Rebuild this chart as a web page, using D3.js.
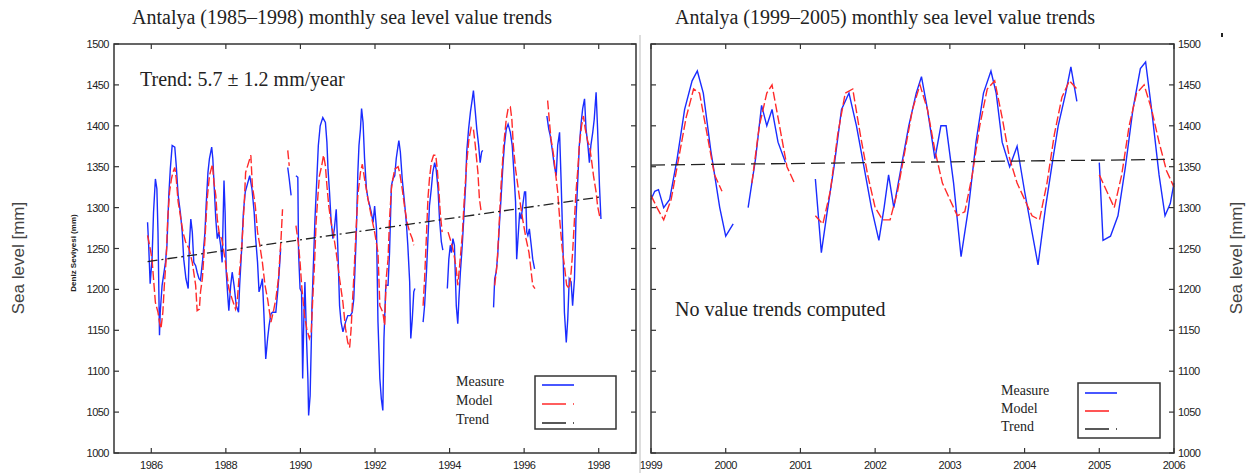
<!DOCTYPE html>
<html>
<head>
<meta charset="utf-8">
<script src="https://cdn.jsdelivr.net/npm/d3@7"></script>
<style>
  body { margin: 0; background: #fff; }
  svg text { fill: #222; }
  .tick-lbl { font-family: "Liberation Sans", Arial, sans-serif; font-size: 11px; letter-spacing: -0.5px; }
  .serif { font-family: "Liberation Serif", "Times New Roman", serif; }
</style>
</head>
<body>
<div id="chart"></div>
<script>
// ---- data (decimal year, mm); null = gap in the record ----
var measureLeft = [
[1985.90,1282],[1985.93,1254],[1985.97,1207],[1986.02,1237],[1986.06,1294],[1986.11,1335],[1986.15,1323],[1986.18,1270],[1986.22,1144],[1986.24,1172],[1986.29,1205],[1986.38,1233],[1986.42,1254],[1986.47,1315],[1986.51,1347],[1986.56,1376],[1986.63,1374],[1986.67,1351],[1986.72,1315],[1986.78,1294],[1986.83,1270],[1986.87,1237],[1986.93,1213],[1986.99,1201],[1987.02,1254],[1987.06,1286],[1987.10,1270],[1987.14,1233],[1987.19,1229],[1987.23,1221],[1987.28,1213],[1987.32,1211],[1987.38,1237],[1987.44,1270],[1987.47,1302],[1987.52,1343],[1987.56,1360],[1987.62,1374],[1987.65,1360],[1987.69,1323],[1987.73,1286],[1987.77,1262],[1987.81,1270],[1987.86,1254],[1987.90,1233],[1987.95,1333],[1987.98,1294],[1988.01,1221],[1988.05,1193],[1988.08,1174],[1988.13,1205],[1988.17,1221],[1988.22,1205],[1988.28,1180],[1988.34,1172],[1988.37,1205],[1988.43,1254],[1988.47,1294],[1988.52,1319],[1988.58,1329],[1988.64,1339],[1988.70,1323],[1988.76,1294],[1988.80,1262],[1988.85,1233],[1988.89,1197],[1988.94,1205],[1988.98,1213],[1989.03,1160],[1989.07,1115],[1989.12,1140],[1989.16,1156],[1989.21,1170],[1989.25,1172],[1989.34,1172],[1989.39,1197],[1989.43,1221],[1989.47,1250],
null,
[1989.66,1349],[1989.70,1335],[1989.75,1315],
null,
[1989.88,1339],[1989.93,1337],[1989.95,1245],[1989.99,1201],[1990.03,1197],[1990.06,1091],[1990.09,1160],[1990.12,1209],[1990.17,1131],[1990.20,1091],[1990.22,1046],[1990.26,1070],[1990.29,1131],[1990.31,1180],[1990.35,1233],[1990.39,1286],[1990.44,1335],[1990.48,1376],[1990.53,1400],[1990.60,1410],[1990.67,1404],[1990.71,1380],[1990.74,1347],[1990.78,1319],[1990.82,1286],[1990.87,1262],[1990.91,1274],[1990.96,1298],[1991.00,1254],[1991.05,1180],[1991.09,1160],[1991.14,1148],[1991.21,1160],[1991.27,1168],[1991.34,1168],[1991.39,1172],[1991.43,1188],[1991.46,1221],[1991.50,1270],[1991.54,1343],[1991.57,1376],[1991.61,1396],[1991.64,1421],[1991.68,1404],[1991.72,1360],[1991.77,1323],[1991.81,1311],[1991.86,1302],[1991.90,1294],[1991.95,1282],[1991.99,1302],[1992.04,1274],[1992.08,1160],[1992.13,1091],[1992.17,1066],[1992.21,1052],[1992.24,1140],[1992.29,1205],[1992.35,1205],[1992.39,1245],[1992.44,1327],[1992.48,1335],[1992.53,1339],[1992.57,1360],[1992.62,1376],[1992.64,1382],[1992.68,1368],[1992.73,1335],[1992.79,1307],[1992.84,1282],[1992.88,1254],[1992.93,1209],[1992.96,1140],[1993.00,1164],[1993.04,1197],[1993.07,1201],
null,
[1993.29,1160],[1993.33,1180],[1993.38,1221],[1993.42,1262],[1993.46,1302],[1993.51,1323],[1993.55,1343],[1993.60,1355],[1993.64,1347],[1993.69,1323],[1993.73,1286],[1993.78,1258],[1993.82,1248],
null,
[1993.94,1201],[1993.98,1237],[1994.02,1254],[1994.05,1245],[1994.09,1262],[1994.13,1254],[1994.18,1180],[1994.22,1158],[1994.25,1188],[1994.29,1221],[1994.34,1254],[1994.38,1286],[1994.43,1327],[1994.46,1368],[1994.51,1396],[1994.56,1417],[1994.61,1433],[1994.64,1443],[1994.69,1417],[1994.73,1396],[1994.78,1376],[1994.82,1355],[1994.86,1368],[1994.89,1370],
null,
[1995.18,1178],[1995.21,1213],[1995.25,1221],[1995.29,1241],[1995.34,1282],[1995.38,1311],[1995.43,1351],[1995.47,1376],[1995.52,1396],[1995.57,1402],[1995.63,1392],[1995.68,1376],[1995.72,1347],[1995.77,1307],[1995.80,1237],[1995.84,1266],[1995.88,1294],[1995.92,1286],[1995.96,1302],[1996.01,1319],[1996.04,1319],[1996.07,1270],[1996.10,1266],[1996.14,1274],[1996.19,1254],[1996.23,1237],[1996.28,1225],
null,
[1996.61,1412],[1996.66,1396],[1996.70,1388],[1996.75,1372],[1996.81,1351],[1996.86,1339],[1996.90,1376],[1996.95,1392],[1996.99,1335],[1997.04,1254],[1997.08,1172],[1997.13,1135],[1997.17,1164],[1997.21,1213],[1997.26,1209],[1997.30,1180],[1997.35,1213],[1997.39,1286],[1997.44,1335],[1997.48,1376],[1997.53,1404],[1997.57,1421],[1997.62,1433],[1997.66,1396],[1997.71,1376],[1997.75,1355],[1997.79,1376],[1997.84,1392],[1997.88,1408],[1997.93,1441],[1997.97,1396],[1998.02,1327],[1998.06,1286]
];

var modelLeft = [
[1985.90,1266],[1985.97,1250],[1986.02,1237],[1986.06,1213],[1986.11,1184],[1986.18,1172],[1986.22,1160],[1986.26,1152],[1986.31,1172],[1986.35,1205],[1986.40,1237],[1986.44,1286],[1986.49,1319],[1986.54,1335],[1986.58,1343],[1986.63,1349],[1986.67,1335],[1986.72,1307],[1986.78,1290],[1986.85,1270],[1986.92,1258],[1987.01,1250],[1987.10,1233],[1987.19,1205],[1987.23,1174],[1987.29,1176],[1987.32,1197],[1987.37,1213],[1987.44,1262],[1987.50,1311],[1987.56,1339],[1987.64,1353],[1987.68,1331],[1987.73,1315],[1987.77,1286],[1987.83,1266],[1987.89,1262],[1987.92,1254],[1987.99,1233],[1988.08,1201],[1988.17,1188],[1988.26,1176],[1988.31,1188],[1988.35,1213],[1988.43,1254],[1988.49,1302],[1988.53,1343],[1988.61,1355],[1988.67,1364],[1988.71,1327],[1988.79,1302],[1988.85,1270],[1988.91,1254],[1988.98,1233],[1989.05,1205],[1989.12,1188],[1989.21,1160],[1989.27,1172],[1989.34,1188],[1989.41,1213],[1989.48,1262],[1989.52,1298],
null,
[1989.66,1370],[1989.70,1351],
null,
[1989.88,1278],[1989.95,1254],[1989.99,1233],[1990.04,1201],[1990.11,1168],[1990.17,1152],[1990.24,1140],[1990.29,1148],[1990.33,1188],[1990.38,1233],[1990.42,1282],[1990.47,1315],[1990.51,1339],[1990.57,1351],[1990.62,1364],[1990.67,1351],[1990.71,1327],[1990.76,1302],[1990.82,1282],[1990.89,1266],[1990.96,1245],[1991.05,1213],[1991.14,1184],[1991.21,1152],[1991.27,1135],[1991.32,1129],[1991.36,1152],[1991.39,1180],[1991.43,1213],[1991.48,1262],[1991.54,1315],[1991.61,1343],[1991.66,1353],[1991.72,1335],[1991.81,1311],[1991.90,1290],[1991.99,1270],[1992.08,1245],[1992.13,1180],[1992.17,1176],[1992.21,1172],[1992.26,1156],[1992.30,1213],[1992.35,1237],[1992.39,1286],[1992.44,1323],[1992.48,1335],[1992.53,1347],[1992.62,1350],[1992.66,1343],[1992.73,1323],[1992.79,1302],[1992.86,1282],[1992.93,1270],[1993.00,1262],[1993.04,1254],
null,
[1993.29,1180],[1993.33,1213],[1993.38,1266],[1993.42,1311],[1993.46,1335],[1993.51,1355],[1993.57,1364],[1993.63,1364],[1993.67,1347],[1993.71,1323],[1993.75,1294],[1993.80,1270],
null,
[1993.96,1270],[1994.04,1258],[1994.11,1245],[1994.18,1225],[1994.22,1205],[1994.27,1229],[1994.34,1266],[1994.40,1315],[1994.46,1355],[1994.52,1384],[1994.58,1398],[1994.64,1396],[1994.69,1376],[1994.76,1343],[1994.80,1311],[1994.85,1294],
null,
[1995.21,1205],[1995.27,1229],[1995.32,1270],[1995.38,1327],[1995.45,1376],[1995.52,1408],[1995.57,1421],[1995.63,1423],[1995.67,1408],[1995.71,1376],[1995.77,1347],[1995.83,1327],[1995.89,1307],[1995.96,1286],[1996.05,1262],[1996.13,1245],[1996.19,1221],[1996.23,1205],[1996.29,1201],
null,
[1996.63,1431],[1996.68,1404],[1996.72,1384],[1996.79,1364],[1996.84,1343],[1996.90,1319],[1996.96,1282],[1997.02,1250],[1997.08,1229],[1997.14,1205],[1997.21,1201],[1997.26,1221],[1997.30,1245],[1997.35,1286],[1997.39,1319],[1997.44,1347],[1997.48,1376],[1997.54,1400],[1997.59,1412],[1997.64,1396],[1997.71,1380],[1997.75,1376],[1997.79,1364],[1997.86,1339],[1997.93,1319],[1997.97,1302],[1998.04,1286]
];

var trendLeft = [[1985.90,1234],[1998.05,1313]];

var measureRight = [
[1999.00,1310],[1999.05,1320],[1999.10,1322],[1999.17,1300],[1999.25,1310],[1999.35,1360],[1999.45,1420],[1999.55,1455],[1999.62,1467],[1999.70,1440],[1999.80,1370],[1999.92,1300],[2000.00,1265],[2000.10,1280],
null,
[2000.30,1300],[2000.40,1360],[2000.48,1425],[2000.55,1400],[2000.62,1420],[2000.70,1380],[2000.80,1355],
null,
[2001.20,1335],[2001.28,1245],[2001.35,1290],[2001.45,1350],[2001.55,1420],[2001.65,1440],[2001.75,1400],[2001.85,1350],[2001.95,1300],[2002.05,1260],[2002.12,1300],[2002.18,1340],[2002.25,1300],[2002.35,1350],[2002.45,1400],[2002.55,1440],[2002.62,1460],[2002.70,1420],[2002.80,1360],[2002.88,1400],[2002.95,1400],[2003.05,1330],[2003.15,1240],[2003.25,1300],[2003.35,1380],[2003.45,1440],[2003.55,1467],[2003.62,1440],[2003.70,1380],[2003.80,1350],[2003.90,1375],[2004.00,1320],[2004.12,1260],[2004.18,1230],[2004.28,1300],[2004.38,1360],[2004.45,1400],[2004.55,1440],[2004.62,1472],[2004.70,1430],
null,
[2005.00,1355],[2005.05,1260],[2005.15,1265],[2005.25,1290],[2005.35,1350],[2005.45,1420],[2005.55,1470],[2005.62,1478],[2005.70,1420],[2005.80,1340],[2005.88,1290],[2005.95,1305],[2006.00,1330]
];

var modelRight = [
[1999.00,1315],[1999.08,1300],[1999.17,1285],[1999.27,1310],[1999.37,1360],[1999.47,1410],[1999.57,1445],[1999.65,1440],[1999.75,1390],[1999.85,1340],[1999.95,1320],
null,
[2000.35,1330],[2000.45,1400],[2000.55,1440],[2000.62,1450],[2000.72,1400],[2000.82,1350],[2000.92,1330],
null,
[2001.20,1290],[2001.30,1280],[2001.40,1320],[2001.50,1390],[2001.60,1440],[2001.70,1445],[2001.80,1390],[2001.90,1340],[2002.00,1300],[2002.10,1285],[2002.20,1285],[2002.30,1320],[2002.40,1370],[2002.50,1420],[2002.60,1450],[2002.70,1420],[2002.80,1370],[2002.90,1330],[2003.00,1310],[2003.10,1290],[2003.20,1295],[2003.30,1340],[2003.40,1400],[2003.50,1445],[2003.60,1455],[2003.70,1410],[2003.80,1360],[2003.90,1330],[2004.00,1310],[2004.10,1290],[2004.20,1285],[2004.30,1330],[2004.40,1390],[2004.50,1435],[2004.60,1455],[2004.70,1445],
null,
[2005.00,1340],[2005.10,1320],[2005.20,1300],[2005.30,1340],[2005.40,1400],[2005.50,1440],[2005.60,1450],[2005.70,1420],[2005.80,1380],[2005.90,1345],[2006.00,1325]
];

var trendRight = [[1999.00,1352],[2006.00,1359]];

var yTicks = [1000, 1050, 1100, 1150, 1200, 1250, 1300, 1350, 1400, 1450, 1500];
var xTicksLeft = [1986, 1988, 1990, 1992, 1994, 1996, 1998];
var xTicksRight = [1999, 2000, 2001, 2002, 2003, 2004, 2005, 2006];
var legendLabels = ["Measure", "Model", "Trend"];

var width = 1250, height = 473;

var svg = d3.select("#chart").append("svg")
  .attr("width", width)
  .attr("height", height);

var axisColor = "#333";

function drawPanel(p) {
  var x = d3.scaleLinear().domain(p.xDomain).range([p.left, p.right]);
  var y = d3.scaleLinear().domain([1000, 1500]).range([p.bottom, p.top]);
  var g = svg.append("g");

  var line = d3.line()
    .defined(function(d) { return d !== null; })
    .x(function(d) { return x(d[0]); })
    .y(function(d) { return y(d[1]); });

  // series
  g.append("path").datum(p.measure)
    .attr("d", line).attr("fill", "none")
    .attr("stroke", "#1a2cff").attr("stroke-width", 1.4);
  g.append("path").datum(p.model)
    .attr("d", line).attr("fill", "none")
    .attr("stroke", "#ff2a2a").attr("stroke-width", 1.4)
    .attr("stroke-dasharray", "9,3");
  g.append("path").datum(p.trend)
    .attr("d", line).attr("fill", "none")
    .attr("stroke", "#222").attr("stroke-width", 1.3)
    .attr("stroke-dasharray", p.trendDash);

  // box with inward ticks on all four sides
  g.append("rect")
    .attr("x", p.left).attr("y", p.top)
    .attr("width", p.right - p.left).attr("height", p.bottom - p.top)
    .attr("fill", "none").attr("stroke", axisColor).attr("stroke-width", 1.5);

  var tk = 5;
  var xt = p.xTicks;
  g.selectAll(".xtb").data(xt).enter().append("line")
    .attr("x1", function(d) { return x(d); }).attr("x2", function(d) { return x(d); })
    .attr("y1", p.bottom).attr("y2", p.bottom - tk)
    .attr("stroke", axisColor).attr("stroke-width", 1.2);
  g.selectAll(".xtt").data(xt).enter().append("line")
    .attr("x1", function(d) { return x(d); }).attr("x2", function(d) { return x(d); })
    .attr("y1", p.top).attr("y2", p.top + tk)
    .attr("stroke", axisColor).attr("stroke-width", 1.2);
  g.selectAll(".ytl").data(yTicks).enter().append("line")
    .attr("x1", p.left).attr("x2", p.left + tk)
    .attr("y1", function(d) { return y(d); }).attr("y2", function(d) { return y(d); })
    .attr("stroke", axisColor).attr("stroke-width", 1.2);
  g.selectAll(".ytr").data(yTicks).enter().append("line")
    .attr("x1", p.right).attr("x2", p.right - tk)
    .attr("y1", function(d) { return y(d); }).attr("y2", function(d) { return y(d); })
    .attr("stroke", axisColor).attr("stroke-width", 1.2);

  g.selectAll(".xl").data(xt).enter().append("text")
    .attr("class", "tick-lbl")
    .attr("x", function(d) { return x(d); })
    .attr("y", p.bottom + 16)
    .attr("text-anchor", "middle")
    .text(function(d) { return d; });

  g.selectAll(".yl").data(yTicks).enter().append("text")
    .attr("class", "tick-lbl")
    .attr("x", p.yLabelSide === "left" ? p.left - 5 : p.right + 4)
    .attr("y", function(d) { return y(d) + 4; })
    .attr("text-anchor", p.yLabelSide === "left" ? "end" : "start")
    .text(function(d) { return d; });

  // title
  g.append("text").attr("class", "serif")
    .attr("x", p.titleX).attr("y", 24)
    .attr("text-anchor", "middle")
    .style("font-size", "20px")
    .text(p.title);

  // legend
  var lg = g.append("g");
  lg.selectAll("text").data(legendLabels).enter().append("text")
    .attr("class", "serif")
    .attr("x", p.legend.textX)
    .attr("y", function(d, i) { return p.legend.textY + i * p.legend.step; })
    .style("font-size", "14px")
    .text(function(d) { return d; });
  lg.append("rect")
    .attr("x", p.legend.boxX).attr("y", p.legend.boxY)
    .attr("width", p.legend.boxW).attr("height", p.legend.boxH)
    .attr("fill", "#fff").attr("stroke", axisColor).attr("stroke-width", 1.5);
  var lx = p.legend.boxX + 7;
  var ly = p.legend.boxY + p.legend.lineY0;
  lg.append("line").attr("x1", lx).attr("x2", lx + 32)
    .attr("y1", ly).attr("y2", ly)
    .attr("stroke", "#1a2cff").attr("stroke-width", 1.6);
  lg.append("line").attr("x1", lx).attr("x2", lx + 32)
    .attr("y1", ly + p.legend.step).attr("y2", ly + p.legend.step)
    .attr("stroke", "#ff2a2a").attr("stroke-width", 1.6)
    .attr("stroke-dasharray", p.legend.modelDash);
  lg.append("line").attr("x1", lx).attr("x2", lx + 32)
    .attr("y1", ly + 2 * p.legend.step).attr("y2", ly + 2 * p.legend.step)
    .attr("stroke", "#222").attr("stroke-width", 1.6)
    .attr("stroke-dasharray", "24,7,2,20");

  return g;
}

var left = drawPanel({
  left: 114, right: 636, top: 44, bottom: 453,
  xDomain: [1985, 1999], xTicks: xTicksLeft,
  measure: measureLeft, model: modelLeft, trend: trendLeft,
  trendDash: "10,4,2,4",
  yLabelSide: "left",
  title: "Antalya (1985\u20131998) monthly sea level value trends",
  titleX: 342,
  legend: { textX: 456, textY: 386, step: 19, boxX: 535, boxY: 376, boxW: 81, boxH: 53, lineY0: 9, modelDash: "24,7,4,20" }
});

var right = drawPanel({
  left: 651, right: 1174, top: 44, bottom: 453,
  xDomain: [1999, 2006], xTicks: xTicksRight,
  measure: measureRight, model: modelRight, trend: trendRight,
  trendDash: "14,6",
  yLabelSide: "right",
  title: "Antalya (1999\u20132005) monthly sea level value trends",
  titleX: 885,
  legend: { textX: 1001, textY: 395, step: 18, boxX: 1078, boxY: 383, boxW: 82, boxH: 55, lineY0: 10, modelDash: "24,40" }
});

// annotations
svg.append("text").attr("class", "serif")
  .attr("x", 140).attr("y", 86)
  .style("font-size", "20px")
  .text("Trend: 5.7 \u00b1 1.2 mm/year");

svg.append("text").attr("class", "serif")
  .attr("x", 675).attr("y", 316)
  .style("font-size", "20px")
  .text("No value trends computed");

// outer y titles
svg.append("text")
  .attr("transform", "translate(24,258) rotate(-90)")
  .attr("text-anchor", "middle")
  .style("font-family", "'Liberation Sans', Arial, sans-serif")
  .style("font-size", "17px").style("fill", "#444")
  .text("Sea level [mm]");

svg.append("text")
  .attr("transform", "translate(1242,258) rotate(-90)")
  .attr("text-anchor", "middle")
  .style("font-family", "'Liberation Sans', Arial, sans-serif")
  .style("font-size", "17px").style("fill", "#444")
  .text("Sea level [mm]");

// inner Turkish axis label of the left figure
svg.append("text")
  .attr("transform", "translate(76,253) rotate(-90)")
  .attr("text-anchor", "middle")
  .style("font-family", "'Liberation Sans', Arial, sans-serif")
  .style("font-size", "8px").style("font-weight", "bold")
  .text("Deniz Seviyesi (mm)");

// separator between the two figures
svg.append("line")
  .attr("x1", 640).attr("x2", 640).attr("y1", 35).attr("y2", 473)
  .attr("stroke", "#bbb").attr("stroke-width", 1);

// small stray marks of the scanned figure
svg.append("rect").attr("x", 1221).attr("y", 33).attr("width", 2).attr("height", 4).attr("fill", "#222");
</script>
</body>
</html>
